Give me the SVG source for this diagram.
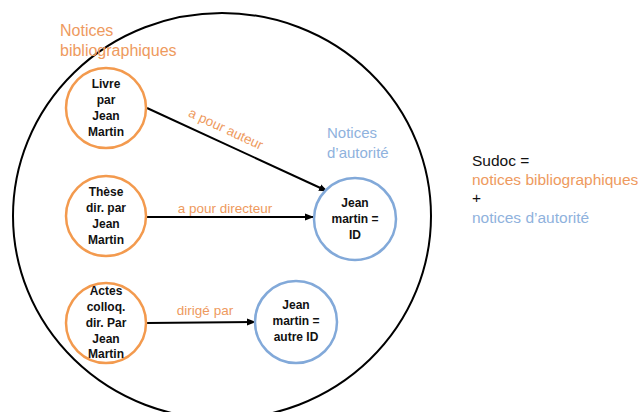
<svg xmlns="http://www.w3.org/2000/svg" width="643" height="412" viewBox="0 0 643 412">
<style>
.bib{fill:#fff;stroke:#F39A4E;stroke-width:2.5}
.aut{fill:#fff;stroke:#82A9D9;stroke-width:2.5}
.lbl{font-family:"Liberation Sans",Arial,sans-serif;font-weight:bold;font-size:12px;fill:#111;text-anchor:middle}
.or{font-family:"Liberation Sans",Arial,sans-serif;fill:#EE9A5E}
.bl{font-family:"Liberation Sans",Arial,sans-serif;fill:#8FB2DD}
.edge{stroke:#000;stroke-width:2;fill:none;marker-end:url(#ah)}
</style>
<defs>
<marker id="ah" markerWidth="9" markerHeight="9" refX="8" refY="4.5" orient="auto" markerUnits="userSpaceOnUse">
<path d="M0,1 L9,4.5 L0,8 Z" fill="#000"/>
</marker>
</defs>
<rect width="643" height="412" fill="#fff"/>
<ellipse id="sudoc" cx="222" cy="216" rx="209" ry="203" fill="none" stroke="#000" stroke-width="2"/>
<g id="title-bib"><text class="or" font-size="16" x="60" y="36">Notices</text><text class="or" font-size="16" x="60" y="56">bibliographiques</text></g>
<g id="title-aut"><text class="bl" font-size="15" x="327" y="138">Notices</text><text class="bl" font-size="15" x="327" y="158">d’autorité</text></g>
<g id="legend">
<text font-family="Liberation Sans,Arial,sans-serif" font-size="15.5" fill="#111" x="472" y="166">Sudoc =</text>
<text class="or" font-size="15.5" x="472" y="185">notices bibliographiques</text>
<text font-family="Liberation Sans,Arial,sans-serif" font-size="15.5" fill="#111" x="472" y="203">+</text>
<text class="bl" font-size="15.5" x="472" y="223">notices d’autorité</text>
</g>
<g id="connectors">
<line class="edge" x1="147" y1="108" x2="327" y2="191"/>
<line class="edge" x1="147" y1="217" x2="313" y2="217"/>
<line class="edge" x1="147" y1="323" x2="255" y2="322"/>
<text class="or" font-size="13.5" transform="translate(224,133) rotate(24.9)" text-anchor="middle">a pour auteur</text>
<text class="or" font-size="13.5" x="225" y="213" text-anchor="middle">a pour directeur</text>
<text class="or" font-size="13.5" x="205" y="315" text-anchor="middle">dirigé par</text>
</g>
<g id="livre"><circle class="bib" cx="106" cy="108" r="40"/><text class="lbl"><tspan x="106" y="88">Livre</tspan><tspan x="106" y="104">par</tspan><tspan x="106" y="120">Jean</tspan><tspan x="106" y="136">Martin</tspan></text></g>
<g id="these"><circle class="bib" cx="106" cy="216" r="40"/><text class="lbl"><tspan x="106" y="196">Thèse</tspan><tspan x="106" y="212">dir. par</tspan><tspan x="106" y="228">Jean</tspan><tspan x="106" y="244">Martin</tspan></text></g>
<g id="actes"><circle class="bib" cx="106" cy="323" r="40"/><text class="lbl"><tspan x="106" y="295">Actes</tspan><tspan x="106" y="311">colloq.</tspan><tspan x="106" y="327">dir. Par</tspan><tspan x="106" y="343">Jean</tspan><tspan x="106" y="358">Martin</tspan></text></g>
<g id="jm-id"><circle class="aut" cx="355" cy="219" r="41"/><text class="lbl"><tspan x="355" y="207">Jean</tspan><tspan x="355" y="223">martin =</tspan><tspan x="355" y="239">ID</tspan></text></g>
<g id="jm-autre"><circle class="aut" cx="296" cy="322" r="41"/><text class="lbl"><tspan x="296" y="309">Jean</tspan><tspan x="296" y="325">martin =</tspan><tspan x="296" y="341">autre ID</tspan></text></g>
</svg>
